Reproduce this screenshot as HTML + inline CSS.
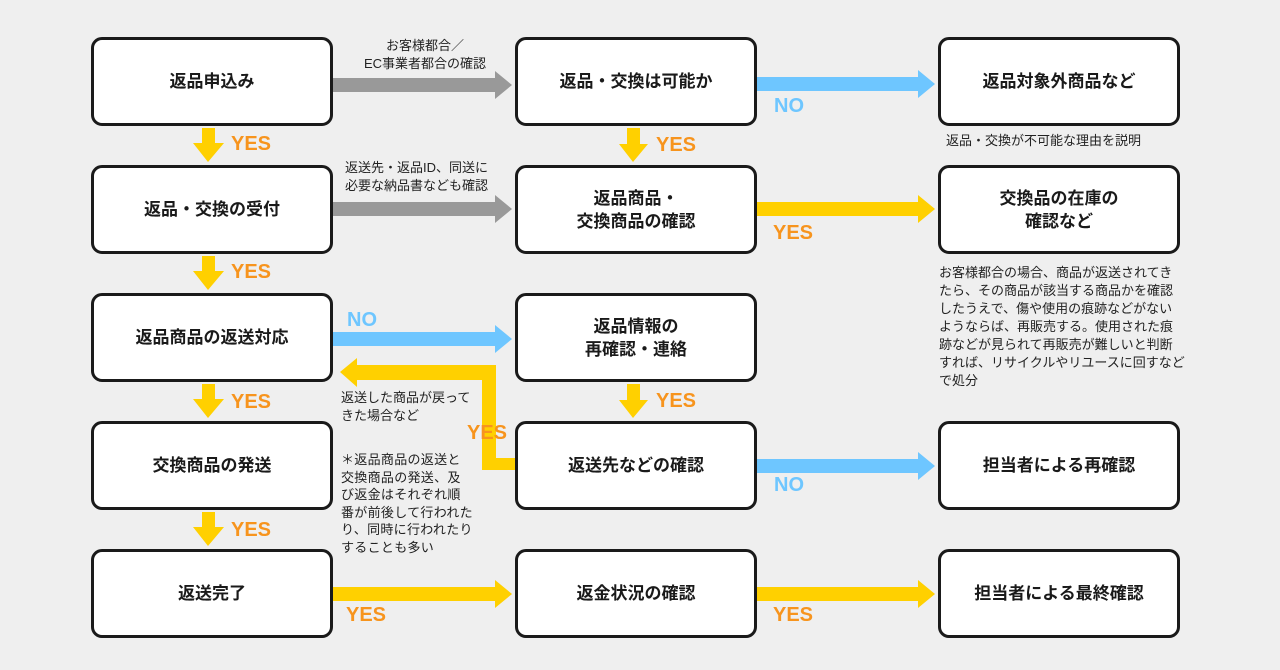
<!DOCTYPE html>
<html><head><meta charset="utf-8"><style>
body{margin:0;width:1280px;height:670px;background:#efefef;position:relative;overflow:hidden;font-family:"Liberation Sans","Noto Sans CJK JP",sans-serif;}
.b{position:absolute;width:236px;height:83px;border:3px solid #1a1a1a;border-radius:11px;background:#fff;display:flex;align-items:center;justify-content:center;text-align:center;font-size:17px;font-weight:bold;line-height:23px;color:#1a1a1a;}
.t{position:absolute;font-size:13px;line-height:19px;color:#222;white-space:nowrap;}
.y,.n{position:absolute;font-size:20px;font-weight:bold;font-family:"Liberation Sans",sans-serif;}
.y{color:#f7941d}.n{color:#6ec6ff}
svg{position:absolute;left:0;top:0}
</style></head><body>
<svg width="1280" height="670">
<g fill="#999">
<rect x="333" y="78" width="163" height="14"/><polygon points="495,71 512,85 495,99"/>
<rect x="333" y="202" width="163" height="14"/><polygon points="495,195 512,209 495,223"/>
</g>
<g fill="#6ec6ff">
<rect x="757" y="77" width="162" height="14"/><polygon points="918,70 935,84 918,98"/>
<rect x="333" y="332" width="163" height="14"/><polygon points="495,325 512,339 495,353"/>
<rect x="757" y="459" width="162" height="14"/><polygon points="918,452 935,466 918,480"/>
</g>
<g fill="#ffd000">
<rect x="757" y="202" width="162" height="14"/><polygon points="918,195 935,209 918,223"/>
<rect x="333" y="587" width="163" height="14"/><polygon points="495,580 512,594 495,608"/>
<rect x="757" y="587" width="162" height="14"/><polygon points="918,580 935,594 918,608"/>
<rect x="202" y="128" width="13" height="16"/><polygon points="193,143 224,143 208,162"/>
<rect x="202" y="256" width="13" height="16"/><polygon points="193,271 224,271 208,290"/>
<rect x="202" y="384" width="13" height="16"/><polygon points="193,399 224,399 208,418"/>
<rect x="202" y="512" width="13" height="16"/><polygon points="193,527 224,527 208,546"/>
<rect x="627" y="128" width="13" height="16"/><polygon points="619,144 648,144 633,162"/>
<rect x="627" y="384" width="13" height="16"/><polygon points="619,400 648,400 633,418"/>
<polygon points="515,458 496,458 496,365 357,365 357,358 340,372 357,387 357,380 482,380 482,470 515,470"/>
</g>
</svg>
<div class="b" style="left:91px;top:37px">返品申込み</div>
<div class="b" style="left:91px;top:165px">返品・交換の受付</div>
<div class="b" style="left:91px;top:293px">返品商品の返送対応</div>
<div class="b" style="left:91px;top:421px">交換商品の発送</div>
<div class="b" style="left:91px;top:549px">返送完了</div>
<div class="b" style="left:515px;top:37px">返品・交換は可能か</div>
<div class="b" style="left:515px;top:165px">返品商品・<br>交換商品の確認</div>
<div class="b" style="left:515px;top:293px">返品情報の<br>再確認・連絡</div>
<div class="b" style="left:515px;top:421px">返送先などの確認</div>
<div class="b" style="left:515px;top:549px">返金状況の確認</div>
<div class="b" style="left:938px;top:37px">返品対象外商品など</div>
<div class="b" style="left:938px;top:165px">交換品の在庫の<br>確認など</div>
<div class="b" style="left:938px;top:421px">担当者による再確認</div>
<div class="b" style="left:938px;top:549px">担当者による最終確認</div>

<div class="t" style="left:335px;top:37px;width:180px;text-align:center;line-height:18px">お客様都合／<br>EC事業者都合の確認</div>
<div class="t" style="left:345px;top:159px;line-height:18px">返送先・返品ID、同送に<br>必要な納品書なども確認</div>
<div class="t" style="left:946px;top:131px">返品・交換が不可能な理由を説明</div>
<div class="t" style="left:939px;top:264px;line-height:18px">お客様都合の場合、商品が返送されてき<br>たら、その商品が該当する商品かを確認<br>したうえで、傷や使用の痕跡などがない<br>ようならば、再販売する。使用された痕<br>跡などが見られて再販売が難しいと判断<br>すれば、リサイクルやリユースに回すなど<br>で処分</div>
<div class="t" style="left:341px;top:389px;line-height:18px">返送した商品が戻って<br>きた場合など</div>
<div class="t" style="left:341px;top:451px;line-height:17.5px;letter-spacing:0.3px">＊返品商品の返送と<br>交換商品の発送、及<br>び返金はそれぞれ順<br>番が前後して行われた<br>り、同時に行われたり<br>することも多い</div>

<div class="y" style="left:231px;top:133px">YES</div>
<div class="y" style="left:231px;top:261px">YES</div>
<div class="y" style="left:231px;top:391px">YES</div>
<div class="y" style="left:231px;top:519px">YES</div>
<div class="y" style="left:656px;top:134px">YES</div>
<div class="y" style="left:656px;top:390px">YES</div>
<div class="y" style="left:467px;top:422px">YES</div>
<div class="y" style="left:773px;top:222px">YES</div>
<div class="y" style="left:346px;top:604px">YES</div>
<div class="y" style="left:773px;top:604px">YES</div>
<div class="n" style="left:774px;top:95px">NO</div>
<div class="n" style="left:347px;top:309px">NO</div>
<div class="n" style="left:774px;top:474px">NO</div>
</body></html>
